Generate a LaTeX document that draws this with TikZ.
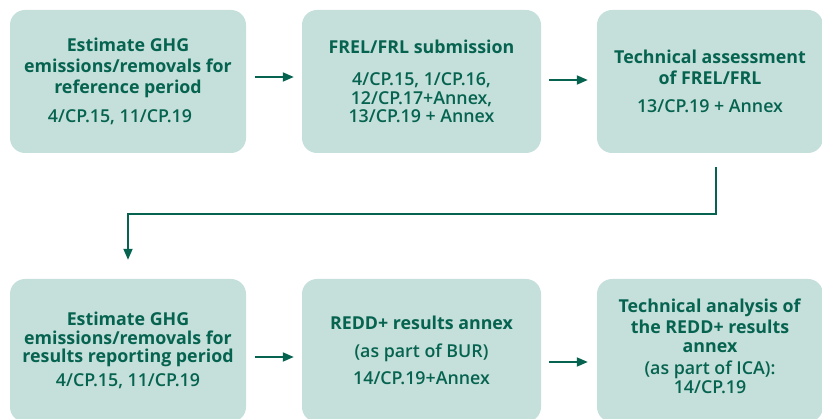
\documentclass[tikz,border=0pt]{standalone}
\usepackage{fontspec}
\setmainfont{Open Sans}
\newfontface\refface{Open Sans Semibold}
\usetikzlibrary{arrows.meta}
\definecolor{boxfill}{HTML}{C5DFDB}
\definecolor{ink}{HTML}{05634F}
\begin{document}
\begin{tikzpicture}[x=1pt,y=-1pt,
  steptext/.style={align=center, text=ink,
    font=\fontsize{17.8}{20.5}\selectfont, inner sep=0pt},
  stepbox/.style={steptext, fill=boxfill, rounded corners=15pt},
  arr/.style={draw=ink, line width=1.8pt,
    -{Triangle[length=11pt,width=9pt]}}]
\useasboundingbox (0,0) rectangle (822,419);
\clip (0,0) rectangle (822,419);
% top row
\node[stepbox, minimum width=236pt, minimum height=143pt] (b1) at (128,81.5)
  {\textbf{Estimate GHG}\\\textbf{emissions/removals for}\\[1pt]\textbf{reference period}\\[8pt]
   {\refface 4/CP.15, 11/CP.19}\hspace*{0.9em}};
\node[stepbox, minimum width=239pt, minimum height=143pt] (b2) at (421.5,81.5)
  {\textbf{FREL/FRL submission}\\[12pt]
   {\refface 4/CP.15, 1/CP.16,}\\[-2pt]{\refface 12/CP.17+Annex,}\hspace*{1.3em}\\[-2pt]{\refface 13/CP.19 + Annex}};
\node[stepbox, minimum width=226pt, minimum height=143pt] (b3) at (710,81.5)
  {\textbf{Technical assessment}\\\textbf{of FREL/FRL}\\[8pt]{\refface 13/CP.19 + Annex}};
% bottom row
\node[stepbox, minimum width=236pt, minimum height=143pt] (b4) at (128,350.5)
  {\textbf{Estimate GHG}\\[-2pt]\textbf{emissions/removals for}\\[-2pt]\textbf{results reporting period}\\[3pt]
   {\refface 4/CP.15, 11/CP.19}};
\node[stepbox, minimum width=239pt, minimum height=143pt] (b5) at (421.5,350.5)
  {\textbf{REDD+ results annex}\\[7pt]{\refface (as part of BUR)}\\[7pt]{\refface 14/CP.19+Annex}};
\node[stepbox, minimum width=226pt, minimum height=143pt] (b6) at (710,350.5) {};
\node[steptext] (t6) at (710,346.5)
  {\textbf{Technical analysis of}\\\textbf{the REDD+ results}\\[-1pt]\textbf{annex}\\[1pt]
   {\refface (as part of ICA):}\\[-1pt]{\refface 14/CP.19}};
% connectors
\draw[arr] ([xshift=9pt,yshift=4.5pt]b1.east) -- ([xshift=-8pt,yshift=4.5pt]b2.west);
\draw[arr] ([xshift=8pt,yshift=1.5pt]b2.east) -- ([xshift=-9pt,yshift=1.5pt]b3.west);
\draw[arr] ([xshift=9pt,yshift=-6.5pt]b4.east) -- ([xshift=-8pt,yshift=-6.5pt]b5.west);
\draw[arr] ([xshift=8pt,yshift=-11.5pt]b5.east) -- ([xshift=-9pt,yshift=-11.5pt]b6.west);
\draw[arr] ([xshift=6pt,yshift=-14pt]b3.south) -- ++(0,47) -| ([yshift=19pt]b4.north);
\end{tikzpicture}
\end{document}
